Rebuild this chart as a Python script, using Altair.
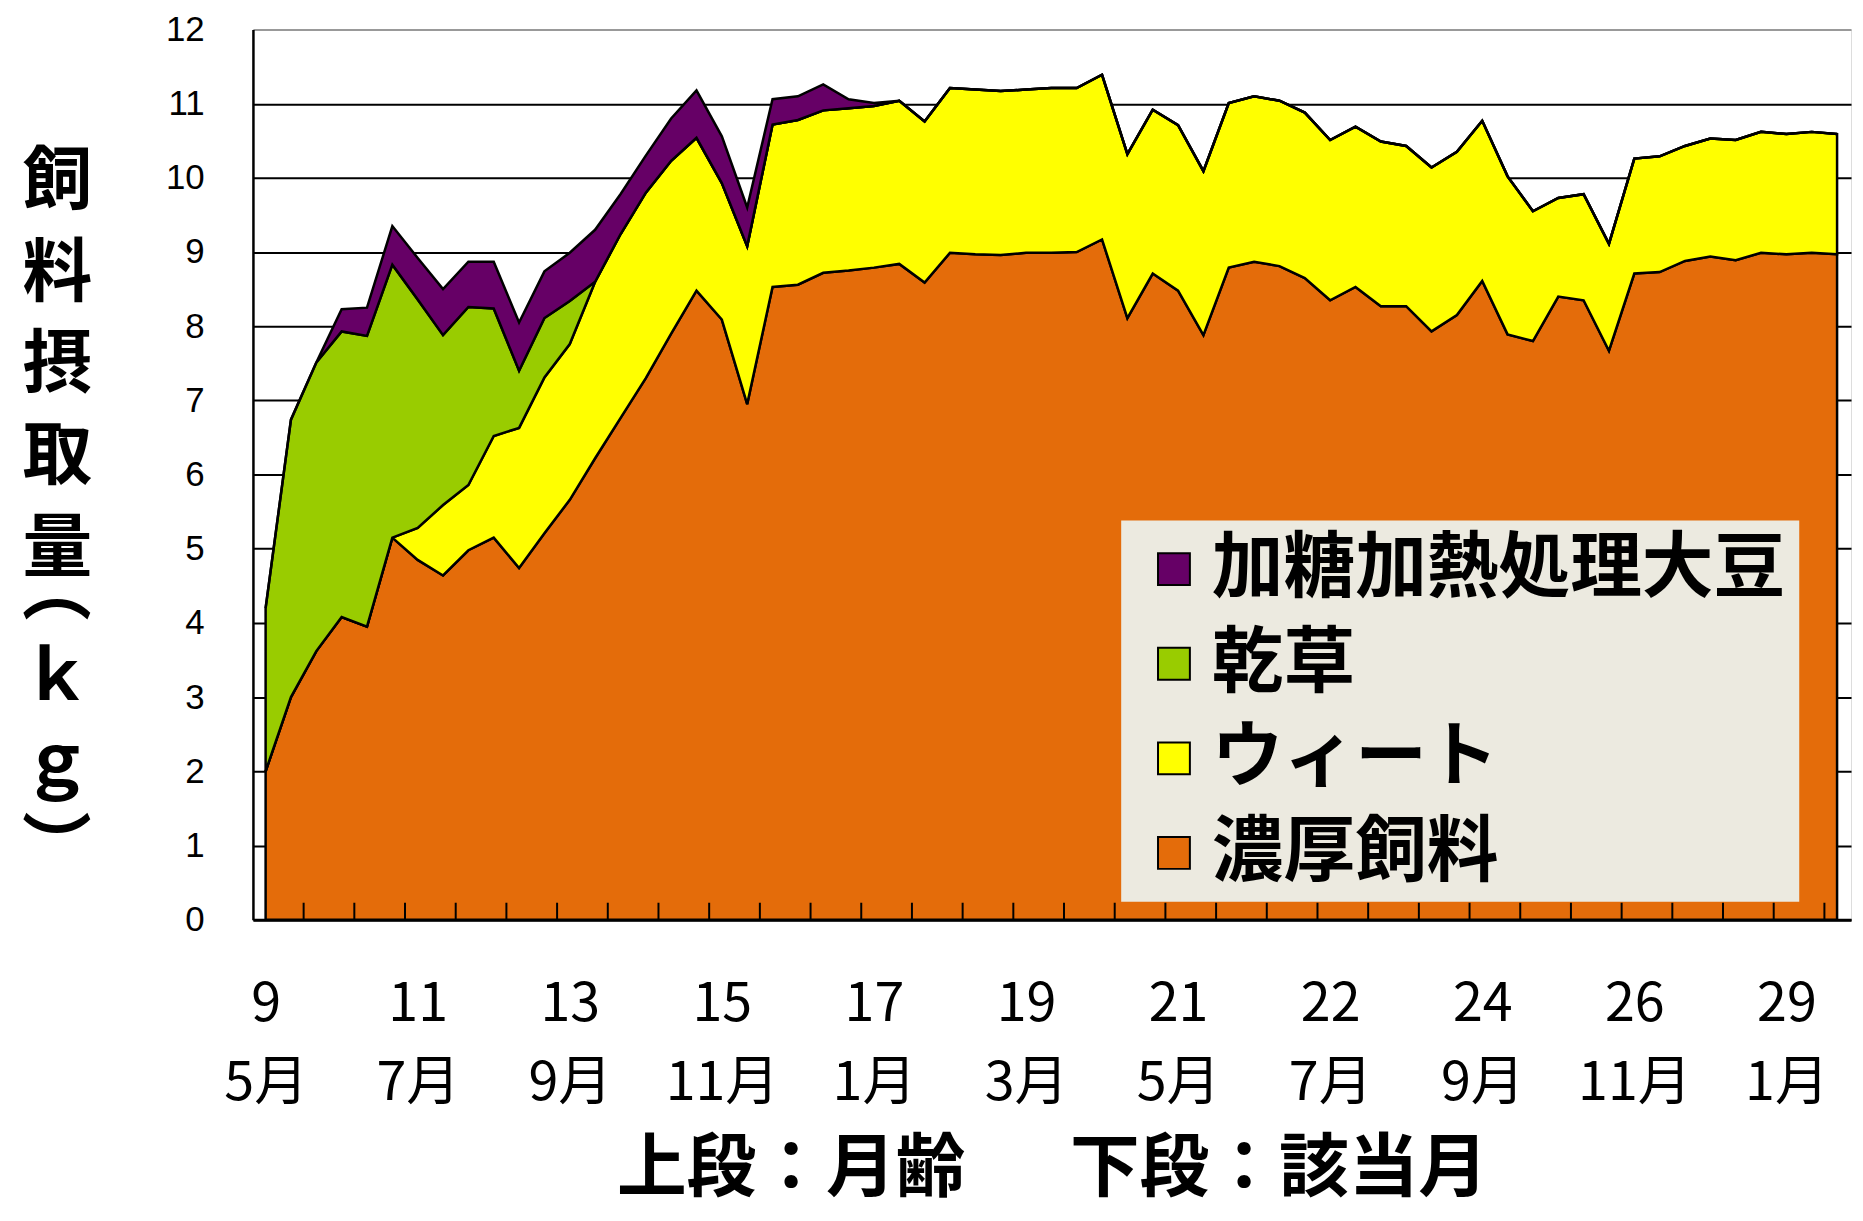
import altair as alt
import pandas as pd

idx = list(range(63))

concentrate = [2.0, 3.0, 3.62, 4.08, 3.95, 5.15, 4.85, 4.64, 4.98, 5.15,
               4.74, 5.21, 5.66, 6.22, 6.76, 7.30, 7.90, 8.48, 8.09, 6.95,
               8.53, 8.56, 8.72, 8.75, 8.79, 8.84, 8.59, 8.99, 8.97, 8.96,
               8.99, 8.99, 9.00, 9.17, 8.11, 8.71, 8.48, 7.88, 8.79, 8.87,
               8.81, 8.65, 8.35, 8.53, 8.27, 8.27, 7.93, 8.15, 8.61, 7.89,
               7.80, 8.40, 8.35, 7.67, 8.71, 8.73, 8.88, 8.94, 8.89, 8.99,
               8.97, 8.99, 8.97]
wheat = [0, 0, 0, 0, 0, 0, 0.43, 0.95, 0.88, 1.37,
         1.89, 2.10, 2.10, 2.38, 2.48, 2.50, 2.33, 2.06, 1.84, 2.13,
         2.19, 2.22, 2.19, 2.19, 2.18, 2.20, 2.17, 2.22, 2.22, 2.21,
         2.20, 2.22, 2.21, 2.22, 2.21, 2.21, 2.23, 2.21, 2.22, 2.23,
         2.23, 2.23, 2.16, 2.16, 2.22, 2.16, 2.21, 2.20, 2.16, 2.13,
         1.75, 1.33, 1.43, 1.44, 1.55, 1.56, 1.55, 1.59, 1.62, 1.63,
         1.62, 1.63, 1.62]
hay = [2.2, 3.74, 3.89, 3.85, 3.92, 3.68, 3.08, 2.29, 2.40, 1.72,
       0.77, 0.80, 0.58, 0, 0, 0, 0, 0, 0, 0,
       0, 0, 0, 0, 0, 0, 0, 0, 0, 0,
       0, 0, 0, 0, 0, 0, 0, 0, 0, 0,
       0, 0, 0, 0, 0, 0, 0, 0, 0, 0,
       0, 0, 0, 0, 0, 0, 0, 0, 0, 0,
       0, 0, 0]
soybean = [0, 0, 0, 0.30, 0.38, 0.52, 0.56, 0.62, 0.61, 0.63,
           0.65, 0.63, 0.65, 0.70, 0.54, 0.50, 0.57, 0.64, 0.63, 0.52,
           0.34, 0.32, 0.35, 0.12, 0.04, 0, 0, 0, 0, 0,
           0, 0, 0, 0, 0, 0, 0, 0, 0, 0,
           0, 0, 0, 0, 0, 0, 0, 0, 0, 0,
           0, 0, 0, 0, 0, 0, 0, 0, 0, 0,
           0, 0, 0]

series_names = ["濃厚飼料", "ウィート", "乾草", "加糖加熱処理大豆"]  # bottom -> top
legend_order = ["加糖加熱処理大豆", "乾草", "ウィート", "濃厚飼料"]
legend_colors = ["#660066", "#99CC00", "#FFFF00", "#E46C0A"]

age_labels = ["9", "11", "13", "15", "17", "19", "21", "22", "24", "26", "29"]
month_labels = ["5月", "7月", "9月", "11月", "1月", "3月", "5月", "7月", "9月", "11月", "1月"]
label_positions = [0, 6, 12, 18, 24, 30, 36, 42, 48, 54, 60]
tick_positions = [1.5, 3.5, 5.5, 7.5, 9.5, 11.5, 13.5, 15.5, 17.5, 19.5,
                  21.5, 23.5, 25.5, 27.5, 29.5, 31.5, 33.5, 35.5, 37.5, 39.5,
                  41.5, 43.5, 45.5, 47.5, 49.5, 51.5, 53.5, 55.5, 57.5, 59.5, 61.5]
y_ticks = [0, 1, 2, 3, 4, 5, 6, 7, 8, 9, 10, 11, 12]

y_title_main = ["飼", "料", "摂", "取", "量"]
y_title_unit = ["︵", "ｋ", "ｇ", "︶"]
x_title = "上段：月齢　\u2002下段：該当月"

FONT = "Noto Sans CJK JP"
NUM_FONT = "Liberation Sans"
W, H = 1605, 894

# ---- long table ----
rows = []
for order, (name, vals) in enumerate(zip(series_names, [concentrate, wheat, hay, soybean])):
    for i, v in zip(idx, vals):
        rows.append({"idx": i, "series": name, "ord": order, "value": v})
df = pd.DataFrame(rows)

age_js = "[" + ",".join("'%s'" % a for a in age_labels) + "]"
mon_js = "[" + ",".join("'%s'" % m for m in month_labels) + "]"
label_expr = "[%s[round(datum.value/6)], %s[round(datum.value/6)]]" % (age_js, mon_js)

x_scale = alt.Scale(domain=[-0.5, 62.55], nice=False, zero=False)

areas = alt.Chart(df).mark_area(
    stroke="black", strokeWidth=2.5, strokeJoin="miter", opacity=1
).encode(
    x=alt.X("idx:Q", scale=x_scale,
            axis=alt.Axis(values=label_positions, labelExpr=label_expr,
                          ticks=False, tickSize=0, grid=False,
                          domainColor="black", domainWidth=3,
                          labelFont=FONT, labelFontSize=54, labelColor="black",
                          labelLineHeight=80, labelPadding=58, labelBaseline="top",
                          labelFlush=False, labelOverlap=False,
                          title=x_title, titleFont=FONT, titleFontSize=70,
                          titleFontWeight="bold", titleColor="black",
                          titleY=251, titleBaseline="middle")),
    y=alt.Y("value:Q", stack="zero",
            scale=alt.Scale(domain=[0, 12], nice=False),
            axis=alt.Axis(values=y_ticks, ticks=False, tickSize=0,
                          grid=True, gridWidth=2,
                          gridColor=alt.condition("datum.value == 12", alt.value("#999999"), alt.value("black")),
                          domainColor="black", domainWidth=2.5,
                          labelFont=NUM_FONT, labelFontSize=35, labelColor="black",
                          labelPadding=49,
                          title=y_title_main, titleAngle=0, titleFont=FONT,
                          titleFontSize=70, titleFontWeight="bold", titleColor="black",
                          titleLineHeight=92, titleAlign="center", titleBaseline="top",
                          titleX=-197, titleY=120)),
    color=alt.Color("series:N",
                    scale=alt.Scale(domain=legend_order, range=legend_colors),
                    legend=alt.Legend(title=None, orient="none", legendX=872, legendY=493,
                                      fillColor="#ECEAE0", padding=13, symbolOffset=4,
                                      symbolType="square", symbolSize=1024,
                                      symbolStrokeColor="black", symbolStrokeWidth=2,
                                      symbolOpacity=1, labelFont=FONT, labelFontSize=72,
                                      labelFontWeight="bold", labelColor="black",
                                      rowPadding=23, labelOffset=2, labelLimit=0)),
    order=alt.Order("ord:Q", sort="ascending"),
)

tick_df = pd.DataFrame({"idx": tick_positions})
ticks = alt.Chart(tick_df).mark_rule(color="black", strokeWidth=2).encode(
    x=alt.X("idx:Q", scale=x_scale),
    y=alt.value(H - 17),
    y2=alt.value(H),
)

unit_title = alt.Chart(pd.DataFrame({"k": [0]})).mark_text(
    font=FONT, fontSize=70, fontWeight="bold", color="black",
    align="center", baseline="top", lineHeight=86
).encode(
    x=alt.value(-197),
    y=alt.value(532),
    text=alt.value(y_title_unit),
)

chart = alt.layer(areas, ticks, unit_title).properties(
    width=W, height=H,
    autosize=alt.AutoSizeParams(type="none"),
    padding={"left": 246, "top": 19, "right": 4, "bottom": 290},
).configure_view(stroke="#999999", strokeWidth=2).configure(background="white")

chart.save("out.html", embed_options={"renderer": "svg", "actions": False})
